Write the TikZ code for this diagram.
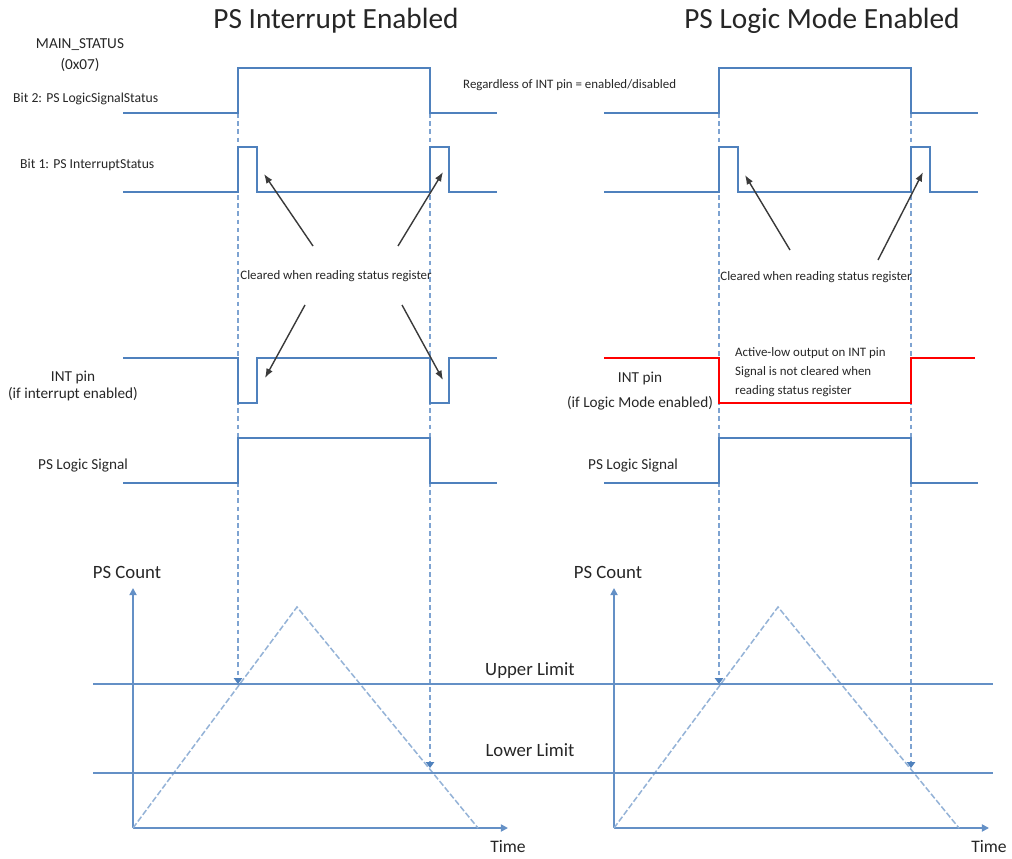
\documentclass[tikz,border=0pt]{standalone}
\usepackage{fontspec}
\setmainfont{Carlito}
\usetikzlibrary{arrows.meta}
\definecolor{sigblue}{HTML}{4F81BD}
\definecolor{guideblue}{HTML}{7EA3D1}
\definecolor{rampblue}{HTML}{95B3D7}
\definecolor{axisblue}{HTML}{6490C6}
\definecolor{txtgray}{HTML}{262626}
\definecolor{arrgray}{HTML}{3A3A3A}
\definecolor{intred}{HTML}{FF0000}
\begin{document}
\begin{tikzpicture}[x=0.3mm,y=-0.3mm,every node/.style={text=txtgray,inner sep=0pt},
sig/.style={draw=sigblue,line width=2.4pt},redsig/.style={draw=intred,line width=1.8pt},
guide/.style={draw=guideblue,line width=1.3pt,dash pattern=on 4pt off 3pt,-{Triangle[length=5pt,width=7pt,sigblue]}},
ramp/.style={draw=rampblue,line width=1.3pt,dash pattern=on 5pt off 2pt},
axis/.style={draw=axisblue,line width=1.4pt,-{Triangle[length=6pt,width=6pt]}},
limit/.style={draw=axisblue,line width=1.4pt},
note/.style={draw=arrgray,line width=1.2pt,-{Latex[length=8pt,width=6pt]}},
ttl/.style={font=\fontsize{25}{28}\selectfont},
lbl/.style={font=\fontsize{13}{15}\selectfont,align=center},
cnt/.style={font=\fontsize{16}{18}\selectfont},
sml/.style={font=\fontsize{11}{16}\selectfont}]
\useasboundingbox (0,0) rectangle (1012,859);
\node[ttl] (ttlL) at (336,21) {PS Interrupt Enabled};
\node[ttl] (ttlR) at (822,21) {PS Logic Mode Enabled};
% both panels share the status bits, logic signal and the count plot
\foreach \p/\dx in {L/0,R/481}{
\begin{scope}[xshift=\dx*0.3mm]
\coordinate (\p-rise) at (238,113); \coordinate (\p-up) at (238,684);
\coordinate (\p-fall) at (430,113); \coordinate (\p-down) at (430,768);
\draw[guide] (\p-rise) -- (\p-up);
\draw[guide] (\p-fall) -- (\p-down);
\draw[sig] (123,113) -- (238,113) -- (238,68) -- (430,68) -- (430,113) -- (497,113);
\draw[sig] (123,192) -- (238,192) -- (238,147) -- (257,147) -- (257,192) -- (430,192) -- (430,147) -- (449,147) -- (449,192) -- (497,192);
\draw[sig] (123,483) -- (238,483) -- (238,438) -- (430,438) -- (430,483) -- (497,483);
\coordinate (\p-o) at (133,828); \coordinate (\p-ytop) at (133,588); \coordinate (\p-xend) at (508,828);
\coordinate (\p-peak) at (297,607); \coordinate (\p-end) at (478,828);
\draw[axis] (\p-o) -- (\p-ytop);
\draw[axis] (\p-o) -- (\p-xend);
\draw[ramp] (\p-o) -- (\p-peak) -- (\p-end);
\node[cnt] (\p-cnt) at (127,572) {PS Count};
\node[cnt,font=\fontsize{15}{17}\selectfont] (\p-time) at (508,847) {Time};
\end{scope}}
% limits run across both plots
\coordinate (upA) at (93,684); \coordinate (upB) at (993,684);
\coordinate (loA) at (93,773); \coordinate (loB) at (993,773);
\draw[limit] (upA) -- (upB);
\draw[limit] (loA) -- (loB);
\node[cnt] (upper) at (530,671) {Upper Limit};
\node[cnt] (lower) at (530,750) {Lower Limit};
% INT pin
\draw[sig] (123,358) -- (238,358) -- (238,403) -- (257,403) -- (257,358) -- (430,358) -- (430,403) -- (449,403) -- (449,358) -- (497,358);
\draw[redsig] (604,358) -- (719,358) -- (719,403) -- (911,403) -- (911,358) -- (975,358);
% labels
\node[lbl,font=\fontsize{13}{18}\selectfont] (main) at (80,55) {MAIN\_STATUS\\(0x07)};
\node[sml,anchor=west,font=\fontsize{11.7}{14}\selectfont] (b2lbl) at (13,99) {Bit 2: PS LogicSignalStatus};
\node[sml,anchor=west,font=\fontsize{11.7}{14}\selectfont] (b1lbl) at (20,165) {Bit 1: PS InterruptStatus};
\node[sml,anchor=west] (regard) at (463,85) {Regardless of INT pin = enabled/disabled};
\node[lbl] (intL) at (73,386) {INT pin\\(if interrupt enabled)};
\node[lbl,font=\fontsize{13}{21}\selectfont] (intR) at (640,391) {INT pin\\(if Logic Mode enabled)};
\node[lbl] (logL) at (83,466) {PS Logic Signal};
\node[lbl] (logR) at (633,466) {PS Logic Signal};
\node[sml,anchor=west,align=left] (redtxt) at (735,372) {Active-low output on INT pin\\Signal is not cleared when\\reading status register};
\node[font=\fontsize{11}{13}\selectfont] (clrL) at (336,276) {Cleared when reading status register};
\node[font=\fontsize{11}{13}\selectfont] (clrR) at (816,277) {Cleared when reading status register};
% arrows to the cleared pulses
\coordinate (L-t1) at (313,246); \coordinate (L-h1) at (264,174);
\coordinate (L-t2) at (398,246); \coordinate (L-h2) at (443,172);
\coordinate (L-t3) at (305,305); \coordinate (L-h3) at (265,378);
\coordinate (L-t4) at (402,305); \coordinate (L-h4) at (443,380);
\coordinate (R-t1) at (790,250); \coordinate (R-h1) at (745,175);
\coordinate (R-t2) at (878,260); \coordinate (R-h2) at (923,172);
\draw[note] (L-t1) -- (L-h1);
\draw[note] (L-t2) -- (L-h2);
\draw[note] (L-t3) -- (L-h3);
\draw[note] (L-t4) -- (L-h4);
\draw[note] (R-t1) -- (R-h1);
\draw[note] (R-t2) -- (R-h2);
\end{tikzpicture}
\end{document}
